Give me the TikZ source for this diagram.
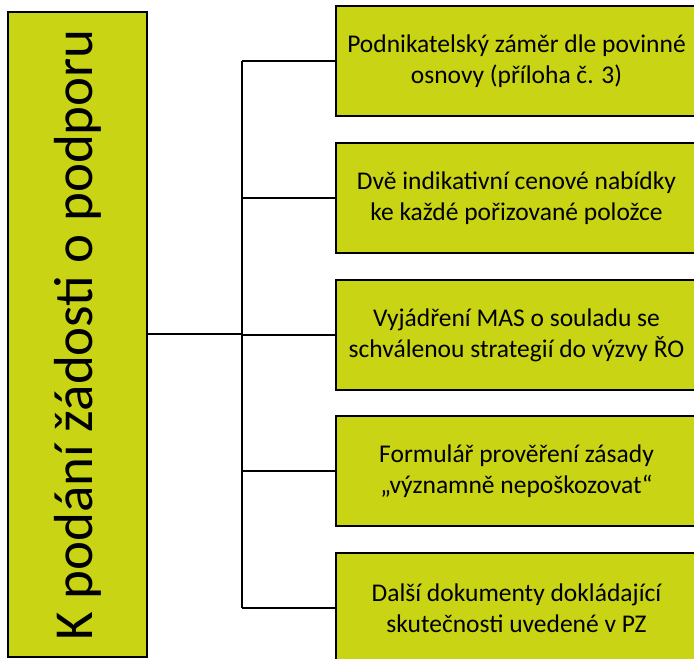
\documentclass[tikz,border=0pt]{standalone}
\usepackage{fontspec}
\setmainfont{Carlito}
\definecolor{zelena}{HTML}{C8D414}

\begin{document}
\begin{tikzpicture}[x=1pt,y=-1pt]
\tikzstyle{krabice} = [draw=black, line width=1.8pt, fill=zelena, inner sep=0pt]
\tikzstyle{polozka} = [krabice, minimum width=361pt, minimum height=110pt, align=center, font=\fontsize{25.5}{31}\selectfont]
\tikzstyle{spoj} = [line width=1.5pt]
\useasboundingbox (0,0) rectangle (694,659);
\node[krabice, minimum width=139pt, minimum height=645pt] (hlavni) at (77.5,334.5) {};
\node[rotate=90, font=\fontsize{55}{60}\selectfont] (nadpis) at (hlavni.center) {K podání žádosti o podporu};
\node[polozka] (p1) at (516.5,61) {Podnikatelský záměr dle povinné\\osnovy (příloha č. 3)};
\node[polozka] (p2) at (516.5,198) {Dvě indikativní cenové nabídky\\ke každé pořizované položce};
\node[polozka] (p3) at (516.5,335) {Vyjádření MAS o souladu se\\schválenou strategií do výzvy ŘO};
\node[polozka] (p4) at (516.5,471) {Formulář prověření zásady\\„významně nepoškozovat“};
\node[polozka] (p5) at (516.5,608) {Další dokumenty dokládající\\skutečnosti uvedené v PZ};
\coordinate (k) at (242,334);
\coordinate (k1) at (242,61);
\coordinate (k5) at (242,608);
\draw[spoj] (hlavni.east |- k) -- (k);
\draw[spoj] (k1) -- (k5);
\draw[spoj] (k1) -- (p1.west);
\draw[spoj] (k1 |- p2.west) -- (p2.west);
\draw[spoj] (k1 |- p3.west) -- (p3.west);
\draw[spoj] (k1 |- p4.west) -- (p4.west);
\draw[spoj] (k5) -- (p5.west);
\end{tikzpicture}
\end{document}
